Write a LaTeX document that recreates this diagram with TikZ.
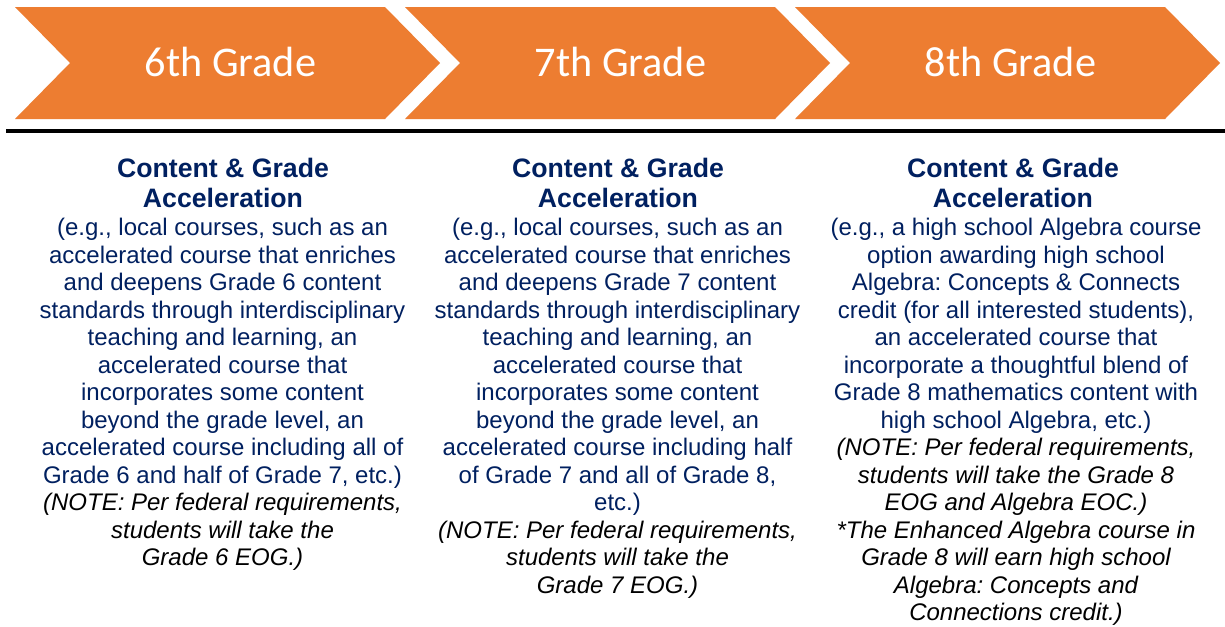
\documentclass[tikz,border=0pt]{standalone}
\usepackage{fontspec}
\setmainfont{Liberation Sans}
\newfontfamily\calibrifont{Carlito}
\frenchspacing
\definecolor{chevorange}{HTML}{ED7D31}
\definecolor{txtnavy}{RGB}{0,32,96}
\newcommand{\notetxt}[1]{{\color{black}\itshape #1}}
\begin{document}
\begin{tikzpicture}[x=0.75pt,y=-0.75pt,
  chevfill/.style={fill=chevorange},
  chevlabel/.style={text=white,font={\calibrifont\fontsize{31.7}{36}\selectfont},anchor=base,inner sep=0pt},
  titlestyle/.style={text=txtnavy,font={\bfseries\fontsize{20}{22.5}\selectfont\frenchspacing},align=center,anchor=north,inner sep=0pt},
  bodystyle/.style={text=txtnavy,font={\fontsize{18}{20.625}\selectfont\frenchspacing},align=center,anchor=north,inner sep=0pt},
  rule/.style={line width=3pt,black}]
\useasboundingbox (0,0) rectangle (1225,626);
\fill[white] (0,0) rectangle (1225,626);
% chevrons
\foreach \x/\g in {15/6,405/7,795/8}{
  \fill[chevfill] (\x,7) -- (\x+370,7) -- (\x+425,63) -- (\x+370,119) -- (\x,119) -- (\x+55,63) -- cycle;
  \node[chevlabel] (g\g) at (\x+215.5,76) {\g th Grade};
}
% separator
\coordinate (ruleL) at (6,131);
\coordinate (ruleR) at (1225,131);
\draw[rule] (ruleL) -- (ruleR);
% titles
\node[titlestyle] (t1) at (223,156) {\strut Content \& Grade\\Acceleration};
\node[titlestyle] (t2) at (618,156) {\strut Content \& Grade\\Acceleration};
\node[titlestyle] (t3) at (1013,156) {\strut Content \& Grade\\Acceleration};
% bodies
\node[bodystyle] (b1) at (222.5,216.25) {\strut (e.g., local courses, such as an\\
accelerated course that enriches\\
and deepens Grade 6 content\\
standards through interdisciplinary\\
teaching and learning, an\\
accelerated course that\\
incorporates some content\\
beyond the grade level, an\\
accelerated course including all of\\
Grade 6 and half of Grade 7, etc.)\\
\notetxt{(NOTE: Per federal requirements,}\\
\notetxt{students will take the}\\
\notetxt{Grade 6 EOG.)}};
\node[bodystyle] (b2) at (617.5,216.25) {\strut (e.g., local courses, such as an\\
accelerated course that enriches\\
and deepens Grade 7 content\\
standards through interdisciplinary\\
teaching and learning, an\\
accelerated course that\\
incorporates some content\\
beyond the grade level, an\\
accelerated course including half\\
of Grade 7 and all of Grade 8,\\
etc.)\\
\notetxt{(NOTE: Per federal requirements,}\\
\notetxt{students will take the}\\
\notetxt{Grade 7 EOG.)}};
\node[bodystyle] (b3) at (1016,216.25) {\strut (e.g., a high school Algebra course\\
option awarding high school\\
Algebra: Concepts \& Connects\\
credit (for all interested students),\\
an accelerated course that\\
incorporate a thoughtful blend of\\
Grade 8 mathematics content with\\
high school Algebra, etc.)\\
\notetxt{(NOTE: Per federal requirements,}\\
\notetxt{students will take the Grade 8}\\
\notetxt{EOG and Algebra EOC.)}\\
\notetxt{*The Enhanced Algebra course in}\\
\notetxt{Grade 8 will earn high school}\\
\notetxt{Algebra: Concepts and}\\
\notetxt{Connections credit.)}};
\end{tikzpicture}
\end{document}
